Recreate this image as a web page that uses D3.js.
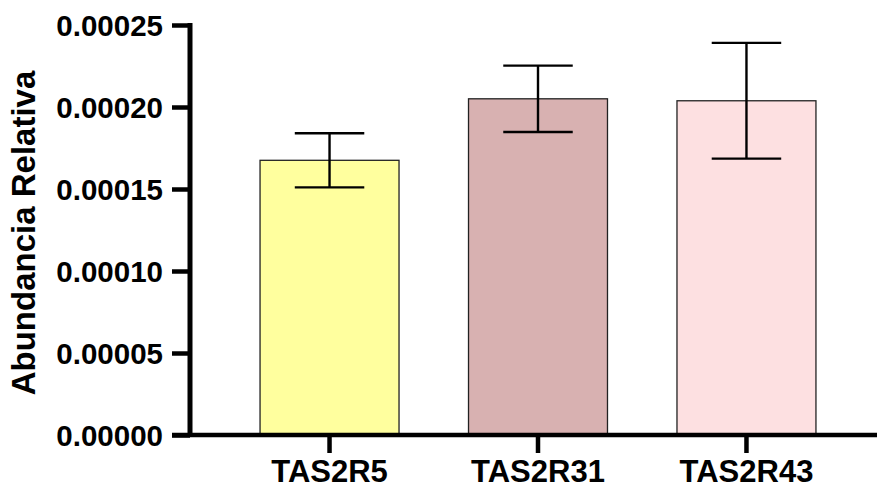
<!DOCTYPE html>
<html>
<head>
<meta charset="utf-8">
<script src="https://cdn.jsdelivr.net/npm/d3@7"></script>
<style>
  html, body { margin: 0; padding: 0; background: #fff; }
  svg { display: block; }
  text { font-family: "Liberation Sans", Arial, sans-serif; font-weight: bold; fill: #000; }
</style>
</head>
<body>
<svg id="chart" width="877" height="489"></svg>
<script>
const categories = ["TAS2R5", "TAS2R31", "TAS2R43"];
const means = [0.0001675, 0.000205, 0.0002038];
const errors = [0.0000165, 0.0000202, 0.0000353];
const colors = ["#FFFF9E", "#D8B1B1", "#FDE0E1"];
const yTicks = [0, 0.00005, 0.0001, 0.00015, 0.0002, 0.00025];
const yLabel = "Abundancia Relativa";

const svg = d3.select("#chart");
const W = 877, H = 489;
const x0 = 190, yBase = 435, yTop = 25;

const y = d3.scaleLinear().domain([0, 0.00025]).range([yBase, yTop]);
const x = d3.scaleBand().domain(categories).range([x0, 886])
  .paddingInner(1/3).paddingOuter(0.336);

const bw = x.bandwidth();

// bars
svg.append("g").selectAll("rect").data(categories).join("rect")
  .attr("x", d => x(d))
  .attr("y", (d, i) => y(means[i]))
  .attr("width", bw)
  .attr("height", (d, i) => yBase - y(means[i]))
  .attr("fill", (d, i) => colors[i])
  .attr("stroke", "#222")
  .attr("stroke-width", 1.3);

// error bars
const eg = svg.append("g").attr("stroke", "#000").attr("stroke-width", 2.4);
categories.forEach((c, i) => {
  const cx = x(c) + bw / 2;
  const hi = y(means[i] + errors[i]);
  const lo = y(means[i] - errors[i]);
  const cap = bw / 4;
  eg.append("line").attr("x1", cx).attr("x2", cx).attr("y1", hi).attr("y2", lo);
  eg.append("line").attr("x1", cx - cap).attr("x2", cx + cap).attr("y1", hi).attr("y2", hi);
  eg.append("line").attr("x1", cx - cap).attr("x2", cx + cap).attr("y1", lo).attr("y2", lo);
});

// y axis
const yAxis = d3.axisLeft(y).tickValues(yTicks).tickFormat(d3.format(".5f"))
  .tickSize(18).tickPadding(9);
const gy = svg.append("g").attr("transform", `translate(${x0},0)`).call(yAxis);
gy.select(".domain").attr("d", `M0,${yTop - 2}V${yBase + 2}`).attr("stroke", "#000").attr("stroke-width", 5);
gy.selectAll(".tick line").attr("stroke", "#000").attr("stroke-width", 4.5);
gy.selectAll(".tick text").style("font-size", "29.5px").attr("dy", "0.36em")
  .style("font-family", "'Liberation Sans', Arial, sans-serif").style("font-weight", "bold");

// x axis
const xAxis = d3.axisBottom(x).tickSize(18).tickPadding(7).tickSizeOuter(0);
const gx = svg.append("g").attr("transform", `translate(0,${yBase})`).call(xAxis);
gx.select(".domain").attr("d", `M${x0 - 18},0H${W}`).attr("stroke", "#000").attr("stroke-width", 4.5);
gx.selectAll(".tick line").attr("stroke", "#000").attr("stroke-width", 4.5);
gx.selectAll(".tick text").style("font-size", "31px")
  .style("font-family", "'Liberation Sans', Arial, sans-serif").style("font-weight", "bold");

// y label
svg.append("text")
  .attr("transform", `translate(35,233) rotate(-90)`)
  .attr("text-anchor", "middle")
  .style("font-size", "33px")
  .text(yLabel);
</script>
</body>
</html>
